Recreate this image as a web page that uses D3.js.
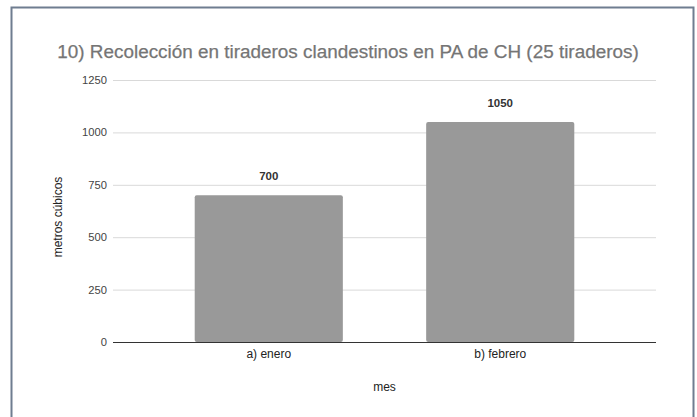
<!DOCTYPE html>
<html>
<head>
<meta charset="utf-8">
<script src="https://cdn.jsdelivr.net/npm/d3@7"></script>
<style>
  html, body { margin: 0; padding: 0; background: #fff; }
  svg { display: block; font-family: "Liberation Sans", Arial, sans-serif; }
</style>
</head>
<body>
<svg id="chart" width="697" height="417"></svg>
<script>
// Collection in clandestine dumps, by month
const categories = ["a) enero", "b) febrero"];
const values = [700, 1050];
const yTicks = [0, 250, 500, 750, 1000, 1250];

const titleText = "10) Recolección en tiraderos clandestinos en PA de CH (25 tiraderos)";
const yTitle = "metros cúbicos";
const xTitle = "mes";

const svg = d3.select("#chart");
const W = 697, H = 417;
const plot = { left: 113, right: 656, top: 80, bottom: 342 };
const FONT = "'Liberation Sans', Arial, sans-serif";

// Card frame (open at the bottom)
svg.append("path")
  .attr("d", `M11.5,${H} L11.5,7.5 L693.5,7.5 L693.5,${H}`)
  .attr("fill", "none")
  .attr("stroke", "#6f7d90")
  .attr("stroke-width", 2);

const x = d3.scaleBand()
  .domain(categories)
  .range([plot.left, plot.right])
  .paddingInner(0.36)
  .paddingOuter(0.353);

const y = d3.scaleLinear()
  .domain([0, 1250])
  .range([plot.bottom, plot.top]);

// Title
svg.append("text")
  .attr("x", 348)
  .attr("y", 58)
  .attr("text-anchor", "middle")
  .attr("font-size", 18.9)
  .attr("fill", "#757575")
  .attr("stroke", "#757575")
  .attr("stroke-width", 0.25)
  .text(titleText);

// Gridlines + y tick labels
const yAxis = d3.axisLeft(y)
  .tickValues(yTicks)
  .tickSize(-(plot.right - plot.left))
  .tickPadding(6)
  .tickFormat(d3.format("d"));

const gy = svg.append("g")
  .attr("transform", `translate(${plot.left},0)`)
  .call(yAxis);
gy.select(".domain").remove();
gy.selectAll(".tick line")
  .attr("stroke", "#d9d9d9")
  .attr("stroke-width", 1);
gy.selectAll(".tick text")
  .attr("font-size", 11.2)
  .attr("fill", "#444")
  .attr("font-family", FONT);

// Bars
svg.append("g")
  .selectAll("rect")
  .data(values)
  .join("rect")
  .attr("x", (d, i) => x(categories[i]))
  .attr("y", d => y(d))
  .attr("width", x.bandwidth())
  .attr("height", d => y(0) - y(d))
  .attr("rx", 2)
  .attr("fill", "#999999");

// Value labels
svg.append("g")
  .selectAll("text")
  .data(values)
  .join("text")
  .attr("x", (d, i) => x(categories[i]) + x.bandwidth() / 2)
  .attr("y", d => y(d) - 15)
  .attr("text-anchor", "middle")
  .attr("font-size", 11.5)
  .attr("font-weight", "bold")
  .attr("fill", "#333")
  .text(d => d);

// Baseline and category labels
const xAxis = d3.axisBottom(x).tickSize(0).tickPadding(7.5);
const gx = svg.append("g")
  .attr("transform", `translate(0,${plot.bottom})`)
  .call(xAxis);
gx.select(".domain")
  .attr("d", `M${plot.left},0.5H${plot.right}`)
  .attr("stroke", "#333")
  .attr("stroke-width", 1);
gx.selectAll(".tick text")
  .attr("font-size", 12)
  .attr("fill", "#222")
  .attr("font-family", FONT);

// Axis titles
svg.append("text")
  .attr("transform", `translate(62,217) rotate(-90)`)
  .attr("text-anchor", "middle")
  .attr("font-size", 12)
  .attr("fill", "#222")
  .text(yTitle);

svg.append("text")
  .attr("x", (plot.left + plot.right) / 2)
  .attr("y", 391)
  .attr("text-anchor", "middle")
  .attr("font-size", 12)
  .attr("fill", "#222")
  .text(xTitle);
</script>
</body>
</html>
